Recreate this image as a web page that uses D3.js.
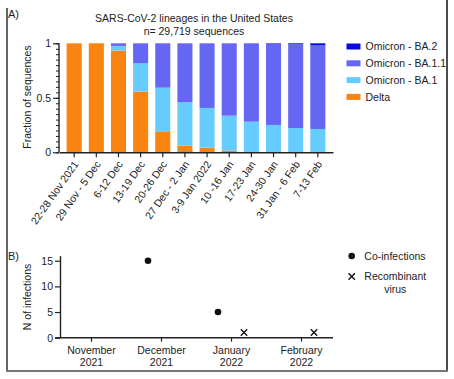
<!DOCTYPE html>
<html>
<head>
<meta charset="utf-8">
<script src="https://cdn.jsdelivr.net/npm/d3@7"></script>
<style>
html,body{margin:0;padding:0;background:#fff;}
text{font-family:"Liberation Sans",Arial,sans-serif;fill:#222;}
</style>
</head>
<body>
<svg id="c" width="454" height="379"></svg>
<script>
// ---- Data ----
const weeks = ["22-28 Nov 2021","29 Nov - 5 Dec","6-12 Dec","13-19 Dec","20-26 Dec","27 Dec - 2 Jan","3-9 Jan 2022","10 -16 Jan","17-23 Jan","24-30 Jan","31 Jan - 6 Feb","7-13 Feb"];
const delta  = [1.000,1.000,0.933,0.557,0.187,0.061,0.043,0.015,0.000,0.000,0.000,0.000];
const ba1    = [0.000,0.000,0.043,0.260,0.406,0.398,0.364,0.321,0.281,0.251,0.223,0.214];
const ba11   = [0.000,0.000,0.024,0.183,0.407,0.541,0.593,0.664,0.717,0.744,0.770,0.766];
const ba2    = [0.000,0.000,0.000,0.000,0.000,0.000,0.000,0.000,0.002,0.005,0.007,0.020];
const seriesNames = ["Delta","Omicron - BA.1","Omicron - BA.1.1","Omicron - BA.2"];
const seriesColors = ["#F98410","#66CCFF","#6666F5","#0A0ADC"];
const yTicksA = [0,0.5,1];
const yTickLabelsA = ["0","0.5","1"];

const months = ["November 2021","December 2021","January 2022","February 2022"];
const coMonths = ["December 2021","January 2022"];
const coValues = [15,5];
const recMonths = ["January 2022","February 2022"];
const recValues = [1,1];
const yTicksB = [0,5,10,15];

const svg = d3.select("#c");
const font = 10.5;

// frame
svg.append("line").attr("x1",7).attr("x2",7).attr("y1",8).attr("y2",371).attr("stroke","#111").attr("stroke-width",1.3);
svg.append("line").attr("x1",447).attr("x2",447).attr("y1",0).attr("y2",371).attr("stroke","#111").attr("stroke-width",1.5);
svg.append("line").attr("x1",6).attr("x2",448).attr("y1",371).attr("y2",371).attr("stroke","#777").attr("stroke-width",2.2);

// ---- Panel A ----
const xA = d3.scaleBand().domain(weeks).range([59,333]).paddingInner(0.32).paddingOuter(0.345);
const yA = d3.scaleLinear().domain([0,1]).range([152.3,43.3]);

const rows = weeks.map((w,i)=>({w, "Delta":delta[i], "Omicron - BA.1":ba1[i], "Omicron - BA.1.1":ba11[i], "Omicron - BA.2":ba2[i]}));
const stack = d3.stack().keys(seriesNames)(rows);
const color = d3.scaleOrdinal().domain(seriesNames).range(seriesColors);

svg.append("g").selectAll("g").data(stack).join("g")
  .attr("fill",d=>color(d.key))
  .selectAll("rect").data(d=>d).join("rect")
  .attr("x",d=>xA(d.data.w))
  .attr("width",xA.bandwidth())
  .attr("y",d=>yA(Math.min(1,d[1])))
  .attr("height",d=>Math.max(0,yA(d[0])-yA(Math.min(1,d[1]))));

// y axis A with minor ticks
const gyA = svg.append("g").attr("transform","translate(59,0)");
gyA.call(d3.axisLeft(yA).tickValues(d3.range(0,1.0001,0.05)).tickSize(3).tickFormat(""))
  .call(g=>g.select(".domain").remove());
gyA.selectAll("line").attr("stroke","#222");
const gyA2 = svg.append("g").attr("transform","translate(59,0)");
gyA2.call(d3.axisLeft(yA).tickValues(yTicksA).tickSize(6).tickPadding(2).tickFormat((d,i)=>yTickLabelsA[i]));
gyA2.select(".domain").attr("d","M0,"+yA(1)+"V"+yA(0)).attr("stroke","#222").attr("stroke-width",1.4);
gyA2.selectAll("line").attr("stroke","#222").attr("stroke-width",1.2);
gyA2.selectAll("text").style("font-size",font+"px").attr("fill","#222");

// x axis A
const gxA = svg.append("g").attr("transform","translate(0,152.3)");
gxA.call(d3.axisBottom(xA).tickSize(5).tickSizeOuter(0));
gxA.select(".domain").attr("stroke","#222").attr("stroke-width",1.4);
gxA.selectAll("line").attr("stroke","#222").attr("stroke-width",1.2);
gxA.selectAll("text").style("font-size",font+"px").attr("fill","#222")
  .attr("text-anchor","end")
  .attr("transform","translate(3,8) rotate(-55)")
  .attr("dy","0.35em").attr("dx","-0.2em").attr("y",0).attr("x",0);

// titles
svg.append("text").attr("x",194).attr("y",21.5).attr("text-anchor","middle").style("font-size",font+"px").text("SARS-CoV-2 lineages in the United States");
svg.append("text").attr("x",194).attr("y",34.5).attr("text-anchor","middle").style("font-size",font+"px").text("n= 29,719 sequences");
svg.append("text").attr("transform","translate(31,97) rotate(-90)").attr("text-anchor","middle").style("font-size",font+"px").text("Fraction of sequences");
svg.append("text").attr("x",8).attr("y",18).style("font-size","11px").text("A)");

// legend A
const legA = seriesNames.slice().reverse();
const legG = svg.append("g");
legA.forEach((n,i)=>{
  const cy = 46.5 + i*16.8;
  legG.append("rect").attr("x",346.5).attr("y",cy-3).attr("width",14).attr("height",6).attr("fill",color(n));
  legG.append("text").attr("x",365.5).attr("y",cy+3.8).style("font-size",font+"px").text(n);
});

// ---- Panel B ----
const xB = d3.scalePoint().domain(months).range([59,333]).padding(0.457);
const yB = d3.scaleLinear().domain([0,16]).range([337.7,255.6]);
const off = 13;

const gyB = svg.append("g").attr("transform","translate(60,0)");
gyB.call(d3.axisLeft(yB).tickValues(yTicksB).tickSize(5).tickPadding(2).tickSizeOuter(0));
gyB.select(".domain").attr("stroke","#222").attr("stroke-width",1.4);
gyB.selectAll("line").attr("stroke","#222").attr("stroke-width",1.2);
gyB.selectAll("text").style("font-size",font+"px").attr("fill","#222");

const gxB = svg.append("g").attr("transform","translate(0,337.7)");
gxB.call(d3.axisBottom(xB).tickSize(4).tickSizeOuter(0).tickFormat(""));
gxB.select(".domain").attr("d","M55,0H333").attr("stroke","#222").attr("stroke-width",1.4);
gxB.selectAll("line").attr("stroke","#222").attr("stroke-width",1.2);
gxB.selectAll(".tick").each(function(d){
  const parts = d.split(" ");
  const t = d3.select(this).append("text").attr("text-anchor","middle").style("font-size",font+"px").attr("fill","#222");
  t.append("tspan").attr("x",0).attr("y",16).text(parts[0]);
  t.append("tspan").attr("x",0).attr("y",28.7).text(parts[1]);
});

svg.append("g").selectAll("circle").data(coMonths).join("circle")
  .attr("cx",(d)=>xB(d)-off).attr("cy",(d,i)=>yB(coValues[i])).attr("r",3.3).attr("fill","#111");

const xs = 3.2;
svg.append("g").selectAll("path").data(recMonths).join("path")
  .attr("d",(d,i)=>{const cx=xB(d)+off, cy=yB(recValues[i]); return `M${cx-xs},${cy-xs}L${cx+xs},${cy+xs}M${cx-xs},${cy+xs}L${cx+xs},${cy-xs}`;})
  .attr("stroke","#111").attr("stroke-width",1.4).attr("fill","none");

svg.append("text").attr("transform","translate(31,297) rotate(-90)").attr("text-anchor","middle").style("font-size",font+"px").text("N of infections");
svg.append("text").attr("x",8).attr("y",260).style("font-size","11px").text("B)");

// legend B
svg.append("circle").attr("cx",351.7).attr("cy",256).attr("r",3.3).attr("fill","#111");
svg.append("text").attr("x",364.3).attr("y",259.8).style("font-size",font+"px").text("Co-infections");
{const cx=351.7, cy=276.5; svg.append("path").attr("d",`M${cx-xs},${cy-xs}L${cx+xs},${cy+xs}M${cx-xs},${cy+xs}L${cx+xs},${cy-xs}`).attr("stroke","#111").attr("stroke-width",1.4);}
svg.append("text").attr("x",364.3).attr("y",280.3).style("font-size",font+"px").text("Recombinant");
svg.append("text").attr("x",395.3).attr("y",292.5).attr("text-anchor","middle").style("font-size",font+"px").text("virus");
</script>
</body>
</html>
